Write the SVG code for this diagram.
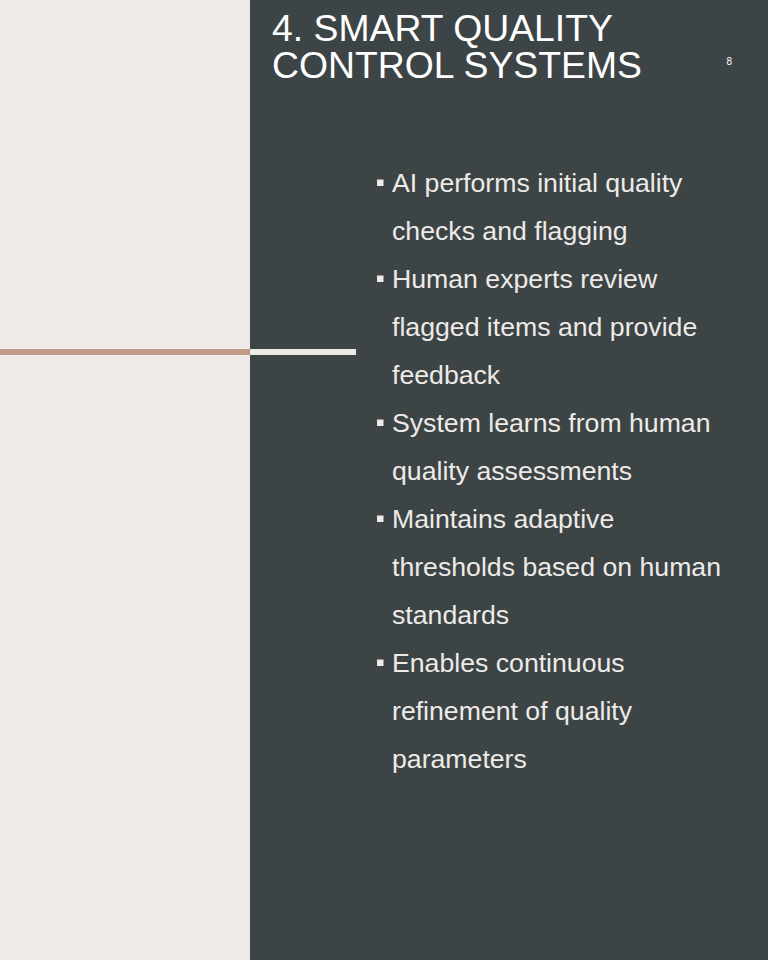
<svg xmlns="http://www.w3.org/2000/svg" width="768" height="960" viewBox="0 0 768 960">
<style>
.bg-left{fill:#EEEAE7}
.bg-right{fill:#3C4446}
.title{font-family:"Liberation Sans",Arial,sans-serif;font-size:37.33px;fill:#FFFFFF}
.num{font-family:"Liberation Sans",Arial,sans-serif;font-size:10px;fill:#FFFFFF}
.body{font-family:"Liberation Sans",Arial,sans-serif;font-size:26.67px;fill:#EEEAE7}
.bullet{fill:#EEEAE7}
</style>
<rect class="bg-left" x="0" y="0" width="250" height="960"/>
<rect class="bg-right" x="250" y="0" width="518" height="960"/>
<g id="divider">
<rect x="0" y="349" width="250" height="6" fill="#BF9A88"/>
<rect x="250" y="349" width="106" height="6" fill="#EEEAE7"/>
</g>
<g id="title">
<text class="title" x="272" y="41">4. SMART QUALITY</text>
<text class="title" x="272" y="77.5">CONTROL SYSTEMS</text>
</g>
<g id="page-number">
<text class="num" x="726.5" y="65">8</text>
</g>
<g id="bullets">
<rect class="bullet" x="377" y="179.5" width="6.5" height="6.5"/>
<text class="body" x="392" y="192">AI performs initial quality</text>
<text class="body" x="392" y="240">checks and flagging</text>
<rect class="bullet" x="377" y="275.5" width="6.5" height="6.5"/>
<text class="body" x="392" y="288">Human experts review</text>
<text class="body" x="392" y="336">flagged items and provide</text>
<text class="body" x="392" y="384">feedback</text>
<rect class="bullet" x="377" y="419.5" width="6.5" height="6.5"/>
<text class="body" x="392" y="432">System learns from human</text>
<text class="body" x="392" y="480">quality assessments</text>
<rect class="bullet" x="377" y="515.5" width="6.5" height="6.5"/>
<text class="body" x="392" y="528">Maintains adaptive</text>
<text class="body" x="392" y="576">thresholds based on human</text>
<text class="body" x="392" y="624">standards</text>
<rect class="bullet" x="377" y="659.5" width="6.5" height="6.5"/>
<text class="body" x="392" y="672">Enables continuous</text>
<text class="body" x="392" y="720">refinement of quality</text>
<text class="body" x="392" y="768">parameters</text>
</g>
</svg>
